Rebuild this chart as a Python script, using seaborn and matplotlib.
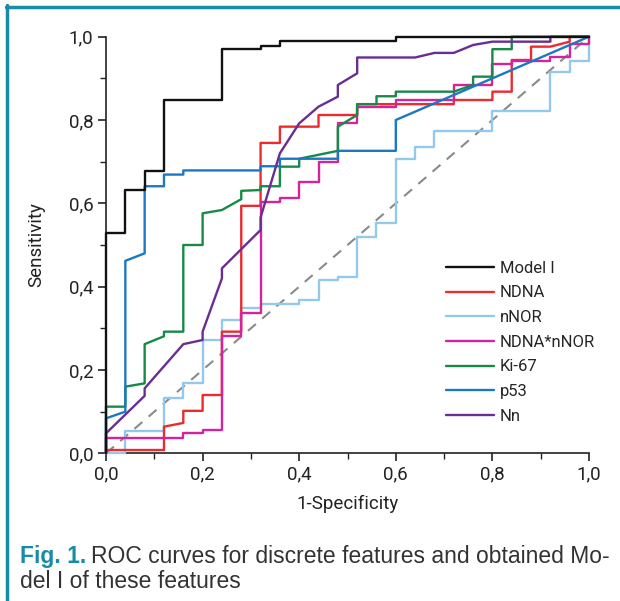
import numpy as np
import pandas as pd
import matplotlib
matplotlib.use('Agg')
import matplotlib.pyplot as plt
from matplotlib.lines import Line2D
from matplotlib.ticker import MultipleLocator, FuncFormatter
import seaborn as sns

# --- ROC vertices (1-specificity, sensitivity) ---
model_fpr = [0, 0, 0.04, 0.04, 0.08, 0.08, 0.12, 0.12, 0.24, 0.24, 0.32, 0.32, 0.36, 0.36, 0.60, 0.60, 1.0]
model_tpr = [0, 0.528, 0.528, 0.632, 0.632, 0.678, 0.678, 0.848, 0.848, 0.970, 0.970, 0.978, 0.978, 0.989, 0.989, 1.0, 1.0]

ndna_fpr = [0, 0, 0.12, 0.12, 0.16, 0.16, 0.20, 0.20, 0.24, 0.24, 0.28, 0.28, 0.32, 0.32, 0.36, 0.36, 0.44, 0.44,
            0.52, 0.52, 0.72, 0.72, 0.80, 0.80, 0.84, 0.84, 0.88, 0.88, 0.92, 0.96, 0.96, 1.0]
ndna_tpr = [0, 0.008, 0.008, 0.064, 0.073, 0.102, 0.102, 0.14, 0.14, 0.292, 0.292, 0.594, 0.594, 0.745, 0.745, 0.784, 0.784, 0.812,
            0.812, 0.838, 0.838, 0.848, 0.848, 0.868, 0.868, 0.944, 0.944, 0.976, 0.976, 0.988, 1.0, 1.0]

nnor_fpr = [0, 0.04, 0.04, 0.12, 0.12, 0.16, 0.16, 0.20, 0.20, 0.24, 0.24, 0.28, 0.28, 0.32, 0.32, 0.40, 0.40, 0.44, 0.44,
            0.48, 0.48, 0.52, 0.52, 0.56, 0.56, 0.60, 0.60, 0.64, 0.64, 0.68, 0.68, 0.80, 0.80, 0.92, 0.92, 0.96, 0.96, 1.0, 1.0]
nnor_tpr = [0, 0.0, 0.053, 0.053, 0.132, 0.132, 0.168, 0.168, 0.272, 0.272, 0.32, 0.32, 0.348, 0.348, 0.358, 0.358, 0.368, 0.368, 0.416,
            0.416, 0.424, 0.424, 0.518, 0.518, 0.553, 0.553, 0.706, 0.706, 0.736, 0.736, 0.774, 0.774, 0.821, 0.821, 0.914, 0.914, 0.942, 0.942, 1.0]

combo_fpr = [0, 0, 0.16, 0.16, 0.20, 0.20, 0.24, 0.24, 0.28, 0.28, 0.32, 0.32, 0.36, 0.36, 0.40, 0.40, 0.44, 0.44, 0.48, 0.48,
             0.52, 0.52, 0.60, 0.60, 0.72, 0.72, 0.80, 0.80, 0.84, 0.84, 0.92, 0.92, 0.96, 0.96, 1.0, 1.0]
combo_tpr = [0, 0.037, 0.037, 0.048, 0.048, 0.056, 0.056, 0.281, 0.281, 0.337, 0.337, 0.604, 0.604, 0.612, 0.612, 0.652, 0.652, 0.70, 0.70, 0.792,
             0.792, 0.83, 0.83, 0.848, 0.848, 0.885, 0.885, 0.934, 0.934, 0.942, 0.942, 0.952, 0.952, 0.982, 0.982, 1.0]

ki67_fpr = [0, 0, 0.04, 0.04, 0.08, 0.08, 0.12, 0.12, 0.16, 0.16, 0.20, 0.20, 0.24, 0.28, 0.28, 0.32, 0.32, 0.36, 0.36, 0.40, 0.40,
            0.48, 0.48, 0.52, 0.52, 0.56, 0.56, 0.60, 0.60, 0.72, 0.76, 0.76, 0.80, 0.80, 0.84, 0.84, 1.0]
ki67_tpr = [0, 0.112, 0.112, 0.16, 0.168, 0.262, 0.281, 0.292, 0.292, 0.50, 0.50, 0.576, 0.584, 0.61, 0.63, 0.632, 0.641, 0.641, 0.688, 0.688, 0.707,
            0.726, 0.784, 0.812, 0.838, 0.838, 0.857, 0.857, 0.868, 0.868, 0.884, 0.904, 0.904, 0.97, 0.97, 1.0, 1.0]

p53_fpr = [0, 0, 0.04, 0.04, 0.08, 0.08, 0.12, 0.12, 0.16, 0.16, 0.32, 0.32, 0.36, 0.36, 0.48, 0.48, 0.60, 0.60, 1.0]
p53_tpr = [0, 0.084, 0.10, 0.462, 0.48, 0.641, 0.641, 0.669, 0.669, 0.679, 0.679, 0.689, 0.689, 0.707, 0.707, 0.726, 0.726, 0.80, 1.0]

nn_fpr = [0, 0, 0.08, 0.08, 0.16, 0.20, 0.20, 0.24, 0.24, 0.32, 0.32, 0.36, 0.40, 0.44, 0.48, 0.48, 0.52, 0.52,
          0.64, 0.68, 0.72, 0.76, 0.80, 0.92, 0.92, 1.0]
nn_tpr = [0, 0.048, 0.138, 0.156, 0.262, 0.272, 0.292, 0.42, 0.444, 0.536, 0.566, 0.72, 0.792, 0.832, 0.856, 0.884, 0.912, 0.95,
          0.95, 0.961, 0.961, 0.98, 0.988, 0.988, 1.0, 1.0]

labels = ['Model I', 'NDNA', 'nNOR', 'NDNA*nNOR', 'Ki-67', 'p53', 'Nn']
colors = ['#111111', '#ec2b2f', '#92c9ec', '#d4239c', '#178a47', '#1b78c2', '#6a2d92']
curves = [(model_fpr, model_tpr), (ndna_fpr, ndna_tpr), (nnor_fpr, nnor_tpr), (combo_fpr, combo_tpr),
          (ki67_fpr, ki67_tpr), (p53_fpr, p53_tpr), (nn_fpr, nn_tpr)]
diag = [0, 1]

sns.set_style('ticks')
plt.rcParams['font.family'] = ['Roboto', 'DejaVu Sans']

fig = plt.figure(figsize=(6.2, 6.01), dpi=100)
ax = fig.add_axes([0.171, 0.2457, 0.779, 0.6933])

ax.plot(diag, diag, ls=(0, (5, 4)), color='#8a8a8a', lw=1.5, zorder=1)

draw_order = [2, 1, 3, 4, 5, 6, 0]
for i in draw_order:
    fpr, tpr = curves[i]
    df = pd.DataFrame({'x': fpr, 'y': tpr})
    sns.lineplot(data=df, x='x', y='y', sort=False, estimator=None, color=colors[i],
                 lw=1.7, ax=ax, clip_on=False, zorder=3)

ax.set_xlim(0, 1)
ax.set_ylim(0, 1)
sns.despine(ax=ax)
for s in ['left', 'bottom']:
    ax.spines[s].set_linewidth(1.2)
    ax.spines[s].set_color('#222222')

ax.xaxis.set_major_locator(MultipleLocator(0.2))
ax.yaxis.set_major_locator(MultipleLocator(0.2))
ax.xaxis.set_minor_locator(MultipleLocator(0.1))
ax.yaxis.set_minor_locator(MultipleLocator(0.1))
fmt = FuncFormatter(lambda v, p: f'{v:.1f}'.replace('.', ','))
ax.xaxis.set_major_formatter(fmt)
ax.yaxis.set_major_formatter(fmt)
ax.tick_params(which='major', length=6, width=1.2, color='#222222', labelsize=13.5, labelcolor='#222222', pad=3)
ax.tick_params(which='minor', length=4, width=1.0, color='#222222')

ax.set_xlabel('1-Specificity', fontsize=13.5, color='#222222', labelpad=8)
ax.set_ylabel('Sensitivity', fontsize=13.5, color='#222222', labelpad=17)

handles = [Line2D([], [], color=colors[i], lw=1.7) for i in range(len(labels))]
ax.legend(handles, labels, loc='upper left', bbox_to_anchor=(0.69, 0.478), frameon=False,
          fontsize=12, handlelength=2.9, handletextpad=0.35, labelspacing=0.58,
          borderaxespad=0)

# caption
teal = '#1a8ba6'
cap_font = ['Liberation Sans', 'DejaVu Sans']
renderer = fig.canvas.get_renderer()
t1 = fig.text(20 / 620, 1 - 563 / 601, 'Fig. 1.', fontsize=16.5, fontweight='bold', color=teal,
              family=cap_font)
bb = t1.get_window_extent(renderer)
fig.text(bb.x1 / 620 + 5 / 620, 1 - 563 / 601, 'ROC curves for discrete features and obtained Mo-',
         fontsize=16.5, color='#333333', family=cap_font)
fig.text(20 / 620, 1 - 588 / 601, 'del I of these features', fontsize=16.5, color='#333333',
         family=cap_font)

# frame lines (top and left)
fig.add_artist(Line2D([6 / 620, 1.0], [1 - 6.5 / 601, 1 - 6.5 / 601], color=teal, lw=2.5))
fig.add_artist(Line2D([6.5 / 620, 6.5 / 620], [1 - 5 / 601, 0], color=teal, lw=2.5))

fig.savefig('out.png', dpi=100)
